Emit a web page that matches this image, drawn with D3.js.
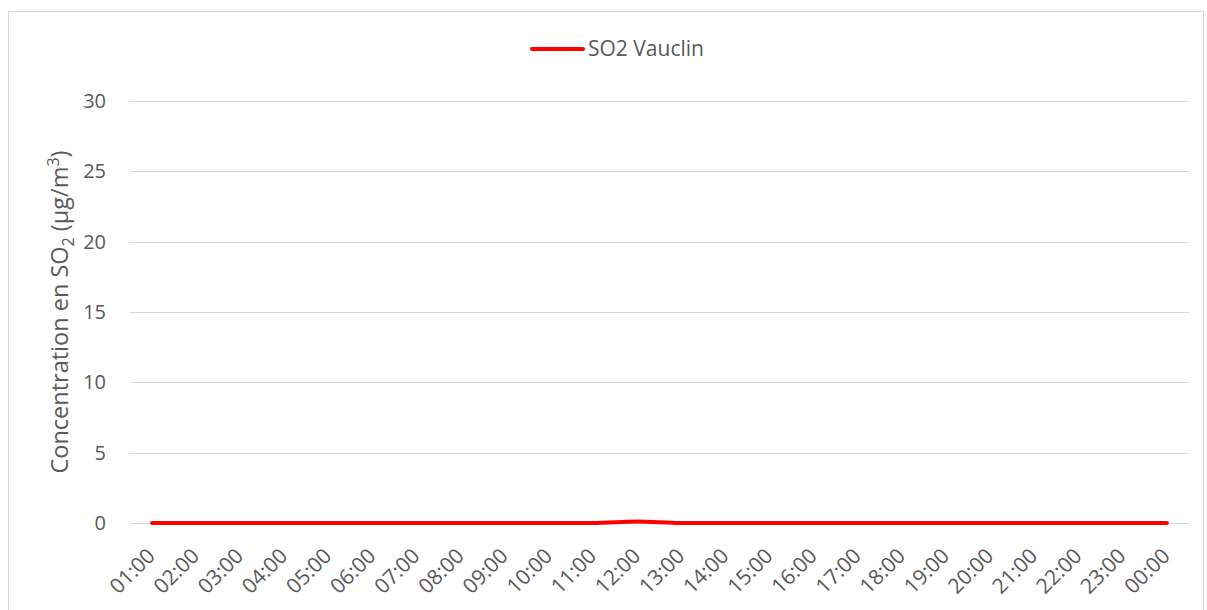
<!DOCTYPE html>
<html>
<head>
<meta charset="utf-8">
<script src="https://cdn.jsdelivr.net/npm/d3@7"></script>
<style>
  body { margin: 0; background: #fff; }
  text { font-family: "Open Sans", "Liberation Sans", sans-serif; fill: #595959; }
</style>
</head>
<body>
<svg id="chart" width="1207" height="610"></svg>
<script>
// hours on the x axis
var hours = ["01:00","02:00","03:00","04:00","05:00","06:00","07:00","08:00","09:00","10:00","11:00","12:00",
  "13:00","14:00","15:00","16:00","17:00","18:00","19:00","20:00","21:00","22:00","23:00","00:00"];
// SO2 Vauclin, µg/m3
var so2 = [0,0,0,0,0,0,0,0,0,0,0,0.1,0,0,0,0,0,0,0,0,0,0,0,0];
var yTicks = [0,5,10,15,20,25,30];
var seriesName = "SO2 Vauclin";

var svg = d3.select("#chart");

// outer frame
svg.append("rect")
  .attr("x", 8.5).attr("y", 11.5)
  .attr("width", 1195).attr("height", 610)
  .attr("fill", "none")
  .attr("stroke", "#d9d9d9");

var plotLeft = 130, plotRight = 1189, plotTop = 101, plotBottom = 523;

var x = d3.scalePoint().domain(hours).range([plotLeft, plotRight]).padding(0.5);
var y = d3.scaleLinear().domain([0, 30]).range([plotBottom, plotTop]);

// gridlines
svg.append("g")
  .selectAll("line")
  .data(yTicks).enter().append("line")
  .attr("x1", plotLeft).attr("x2", plotRight)
  .attr("y1", function (d) { return Math.round(y(d)) + 0.5; })
  .attr("y2", function (d) { return Math.round(y(d)) + 0.5; })
  .attr("stroke", "#d9d9d9")
  .attr("stroke-width", 1);

// y tick labels
svg.append("g")
  .selectAll("text")
  .data(yTicks).enter().append("text")
  .attr("x", 106)
  .attr("y", function (d) { return y(d); })
  .attr("dy", "0.35em")
  .attr("text-anchor", "end")
  .style("font-size", "20px")
  .text(function (d) { return d; });

// x tick labels, rotated
svg.append("g")
  .selectAll("text")
  .data(hours).enter().append("text")
  .attr("text-anchor", "end")
  .attr("transform", function (d) {
    return "translate(" + (x(d) - 1) + ",552) rotate(-45)";
  })
  .attr("dy", "0.35em")
  .style("font-size", "21px")
  .text(function (d) { return d; });

// y axis title
var title = svg.append("text")
  .attr("transform", "translate(68,312) rotate(-90)")
  .attr("text-anchor", "middle")
  .style("font-size", "23.5px");
title.append("tspan").text("Concentration en SO");
title.append("tspan").attr("dy", 6).style("font-size", "16px").text("2");
title.append("tspan").attr("dy", -6).text(" (µg/m");
title.append("tspan").attr("dy", -9).style("font-size", "16px").text("3");
title.append("tspan").attr("dy", 9).text(")");

// series line
var line = d3.line()
  .x(function (d, i) { return x(hours[i]); })
  .y(function (d) { return y(d); })
  .curve(d3.curveMonotoneX);

svg.append("path")
  .datum(so2)
  .attr("d", line)
  .attr("fill", "none")
  .attr("stroke", "#ff0000")
  .attr("stroke-width", 4)
  .attr("stroke-linecap", "round");

// legend
svg.append("line")
  .attr("x1", 532).attr("x2", 583)
  .attr("y1", 49).attr("y2", 49)
  .attr("stroke", "#ff0000")
  .attr("stroke-width", 4)
  .attr("stroke-linecap", "round");
svg.append("text")
  .attr("x", 588).attr("y", 49)
  .attr("dy", "0.35em")
  .style("font-size", "21px")
  .text(seriesName);
</script>
</body>
</html>
